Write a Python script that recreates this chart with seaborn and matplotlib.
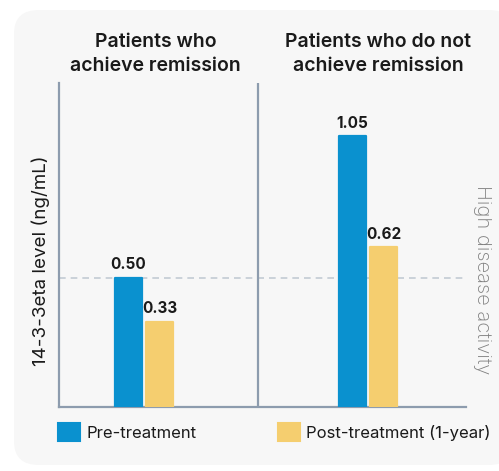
import matplotlib
matplotlib.use("Agg")
import matplotlib.pyplot as plt
from matplotlib.patches import FancyBboxPatch, Patch
import pandas as pd
import seaborn as sns

# ── Data ──────────────────────────────────────────────────────────────────────
groups = ["Patients who\nachieve remission", "Patients who do not\nachieve remission"]
pre_treatment = [0.50, 1.05]
post_treatment = [0.33, 0.62]
series = ["Pre-treatment", "Post-treatment (1-year)"]
threshold = 0.50
threshold_label = "High disease activity"
y_label = "14-3-3eta level (ng/mL)"

df = pd.DataFrame({
    "group": groups * 2,
    "value": pre_treatment + post_treatment,
    "series": [series[0]] * 2 + [series[1]] * 2,
})

# ── Style ─────────────────────────────────────────────────────────────────────
sns.set_theme(style="white")
plt.rcParams["font.family"] = ["Inter", "DejaVu Sans"]

BLUE = "#0a91cf"
YELLOW = "#f5ce6f"
SPINE = "#8d9cae"
PANEL = "#f7f7f7"
TEXT = "#1a1a1a"

fig = plt.figure(figsize=(4.99, 4.71), dpi=100, facecolor="white")

# light rounded panel behind everything
panel = FancyBboxPatch((14 / 499, 6 / 471), 500 / 499, 455 / 471,
                       boxstyle="round,pad=0,rounding_size=0.05",
                       transform=fig.transFigure, fc=PANEL, ec="none", zorder=-10)
fig.patches.append(panel)

ax = fig.add_axes([59 / 499, 1 - 407 / 471, 407 / 499, 324 / 471])
ax.patch.set_alpha(0)

sns.barplot(data=df, x="group", y="value", hue="series", order=groups,
            hue_order=series, palette=[BLUE, YELLOW], saturation=1,
            width=0.277, gap=0.13, legend=False, ax=ax, zorder=3)

for bar, c in zip(ax.patches, [BLUE, BLUE, YELLOW, YELLOW]):
    bar.set_edgecolor(c)
    bar.set_linewidth(1.6)
    bar.set_joinstyle("round")

for cont in ax.containers:
    ax.bar_label(cont, fmt="%.2f", padding=4, fontsize=11,
                 fontweight="bold", color=TEXT)

ax.set_xlim(-0.379, 1.4375)
ax.set_ylim(0, 1.256)
ax.set_xticks([])
ax.set_yticks([])
ax.set_xlabel("")
ax.set_ylabel(y_label, fontsize=13.5, color=TEXT)
ax.yaxis.set_label_coords(-0.022, 0.45)

for side in ["top", "right"]:
    ax.spines[side].set_visible(False)
for side in ["left", "bottom"]:
    ax.spines[side].set_color(SPINE)
    ax.spines[side].set_linewidth(1.6)

# divider between the two groups
ax.axvline(0.509, color=SPINE, lw=1.6, zorder=2)

# threshold line
ax.axhline(threshold, color="#c3cbd4", lw=1.2, ls=(0, (4, 3)), zorder=1)

# group headers
for xf, g in zip([0.238, 0.784], groups):
    ax.text(xf, 1.026, g, transform=ax.transAxes, ha="center", va="bottom",
            fontsize=14, fontweight="semibold", color=TEXT, linespacing=1.42)

fig.text(482 / 499, 1 - 280 / 471, threshold_label, rotation=-90,
         ha="center", va="center", fontsize=14.5, color="#808080",
         fontweight="light")

# legend
handles = [Patch(fc=BLUE, ec=BLUE, lw=1.5, joinstyle="round"),
           Patch(fc=YELLOW, ec=YELLOW, lw=1.5, joinstyle="round")]
fig.legend(handles, series, loc="center left",
           bbox_to_anchor=(58 / 499, 1 - 432 / 471), ncol=2, frameon=False,
           borderaxespad=0, borderpad=0,
           fontsize=12, handlelength=1.3, handleheight=1.25,
           handletextpad=0.4, columnspacing=4.9, labelcolor=TEXT)

plt.savefig("out.png", dpi=100, facecolor="white")
plt.close()
